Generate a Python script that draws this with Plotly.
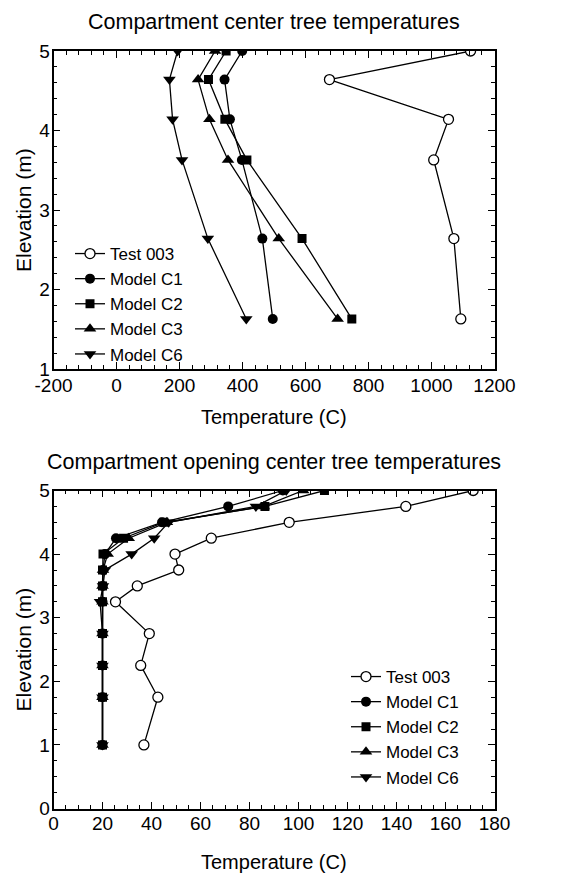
import plotly.graph_objects as go

# ---------------- Data: top chart (compartment center tree) ----------------
top_elev_test = [5.0, 4.64, 4.14, 3.63, 2.64, 1.63]
top_test003 = [1124, 676, 1054, 1007, 1071, 1093]
top_elev = [5.0, 4.64, 4.14, 3.63, 2.64, 1.63]
top_c1 = [399, 343, 360, 398, 463, 496]
top_c2 = [348, 292, 344, 414, 589, 747]
top_c3 = [313, 259, 295, 354, 515, 702]
top_c6 = [194, 168, 178, 208, 290, 412]
top_xticks = [-200, 0, 200, 400, 600, 800, 1000, 1200]
top_xlabels = ["-200", "0", "200", "400", "600", "800", "1000", "1200"]

# ---------------- Data: bottom chart (compartment opening center tree) ----------------
bot_elev = [5.0, 4.75, 4.5, 4.25, 4.0, 3.75, 3.5, 3.25, 2.75, 2.25, 1.75, 1.0]
bot_test003 = [171.3, 143.8, 96.2, 64.4, 49.6, 51.1, 34.2, 25.3, 39.1, 35.6, 42.6, 36.9]
bot_c1 = [93.6, 71.3, 44.3, 25.5, 21.0, 20.2, 20.1, 20.0, 20.0, 20.0, 20.0, 20.0]
bot_c2 = [110.6, 86.3, 45.0, 28.6, 20.2, 20.0, 20.0, 20.0, 20.0, 20.0, 20.0, 20.0]
bot_c3 = [101.9, 85.8, 46.3, 30.7, 22.1, 20.2, 20.0, 20.0, 20.0, 20.0, 20.0, 20.0]
bot_c6 = [95.0, 82.6, 47.0, 41.1, 31.9, 21.0, 20.2, 19.0, 20.0, 20.0, 20.0, 20.0]

series_names = ["Test 003", "Model C1", "Model C2", "Model C3", "Model C6"]
symbols = ["circle-open", "circle", "square", "triangle-up", "triangle-down"]

title_top = "Compartment center tree temperatures"
title_bot = "Compartment opening center tree temperatures"
xtitle = "Temperature (C)"
ytitle = "Elevation (m)"

FONT = "Liberation Sans, Arial, Helvetica, sans-serif"
W, H = 571, 875

fig = go.Figure()

top_sets = [(top_test003, top_elev_test), (top_c1, top_elev), (top_c2, top_elev),
            (top_c3, top_elev), (top_c6, top_elev)]
bot_sets = [(bot_test003, bot_elev), (bot_c1, bot_elev), (bot_c2, bot_elev),
            (bot_c3, bot_elev), (bot_c6, bot_elev)]

def marker_for(sym):
    if sym == "circle-open":
        return dict(symbol="circle", size=10, color="white",
                    line=dict(color="black", width=1.3))
    size = {"circle": 10, "square": 9, "triangle-up": 11, "triangle-down": 11}[sym]
    return dict(symbol=sym, size=size, color="black", line=dict(color="black", width=0))

for i, (xs, ys) in enumerate(top_sets):
    fig.add_trace(go.Scatter(x=xs, y=ys, mode="lines+markers", name=series_names[i],
                             line=dict(color="black", width=1.3),
                             marker=marker_for(symbols[i]),
                             xaxis="x", yaxis="y", legend="legend"))
for i, (xs, ys) in enumerate(bot_sets):
    fig.add_trace(go.Scatter(x=xs, y=ys, mode="lines+markers", name=series_names[i],
                             line=dict(color="black", width=1.3),
                             marker=marker_for(symbols[i]),
                             xaxis="x2", yaxis="y2", legend="legend2"))

def px_x(p):
    return p / W

def px_y(p):
    return 1 - p / H

xdom = [px_x(53.5), px_x(494.5)]
top_ydom = [px_y(369), px_y(51)]
bot_ydom = [px_y(808.5), px_y(490.5)]

axis_common = dict(showline=True, linecolor="black", linewidth=1.5, mirror="allticks",
                   ticks="inside", ticklen=7, tickwidth=1.2, tickcolor="black",
                   showgrid=False, zeroline=False, automargin=False,
                   tickfont=dict(family=FONT, size=19, color="black"))

minor = lambda d: dict(dtick=d, ticks="inside", ticklen=4, tickcolor="black", tickwidth=1)

fig.update_layout(
    width=W, height=H,
    margin=dict(l=0, r=0, t=0, b=0),
    paper_bgcolor="white", plot_bgcolor="white",
    font=dict(family=FONT, color="black"),
    xaxis=dict(domain=xdom, range=[-200, 1200], tickmode="array", tickvals=top_xticks,
               ticktext=top_xlabels, anchor="y", minor=minor(40),
               ticklabelstandoff=-2, **axis_common),
    yaxis=dict(domain=top_ydom, range=[1, 5], dtick=1, anchor="x", minor=minor(0.2),
               ticklabelstandoff=-2, **axis_common),
    xaxis2=dict(domain=xdom, range=[0, 180], dtick=20, anchor="y2", minor=minor(5),
                ticklabelstandoff=-3, **axis_common),
    yaxis2=dict(domain=bot_ydom, range=[0, 5], dtick=1, anchor="x2", minor=minor(0.25),
                ticklabelstandoff=-2, **axis_common),
    legend=dict(x=px_x(70), y=px_y(236), xanchor="left", yanchor="top",
                bgcolor="rgba(0,0,0,0)", borderwidth=0,
                font=dict(family=FONT, size=17, color="black"),
                tracegroupgap=0, itemwidth=30),
    legend2=dict(x=px_x(346), y=px_y(659), xanchor="left", yanchor="top",
                 bgcolor="rgba(0,0,0,0)", borderwidth=0,
                 font=dict(family=FONT, size=17, color="black"),
                 tracegroupgap=0, itemwidth=30),
    showlegend=True,
)

xc = 0.5 * (xdom[0] + xdom[1])
ann = [
    (title_top, xc, px_y(22), 0, 21.5),
    (title_bot, xc, px_y(462), 0, 21.5),
    (xtitle, xc, px_y(417), 0, 20),
    (xtitle, xc, px_y(862), 0, 20),
    (ytitle, px_x(23), px_y(0.5 * (51 + 369)), -90, 21),
    (ytitle, px_x(23), px_y(0.5 * (490.5 + 808.5)), -90, 21),
]
for text, x, y, ang, size in ann:
    fig.add_annotation(text=text, x=x, y=y, xref="paper", yref="paper", showarrow=False,
                       xanchor="center", yanchor="middle", textangle=ang,
                       font=dict(family=FONT, size=size, color="black"))

fig.write_html("out.html", config={"displayModeBar": False},
               post_script="document.body.style.margin='0px';")
